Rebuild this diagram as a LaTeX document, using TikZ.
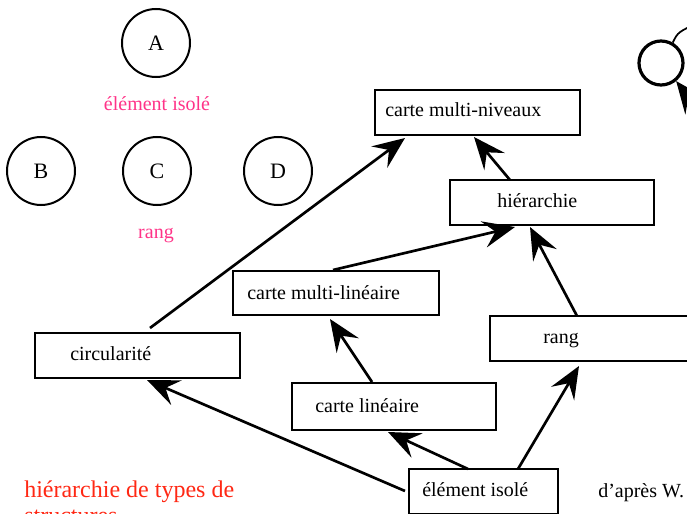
\documentclass[tikz,border=0pt]{standalone}
\usepackage{fontspec}
\setmainfont{Liberation Serif}
\usetikzlibrary{arrows.meta}
\definecolor{pinklbl}{RGB}{255,51,136}
\definecolor{redlbl}{RGB}{255,40,20}
\tikzset{
  box/.style={draw, line width=1.6pt, rectangle, inner sep=0pt},
  txt/.style={font=\fontsize{15pt}{17pt}\selectfont, inner sep=0pt, anchor=base west},
  elem/.style={draw, line width=1.5pt, circle, minimum size=51pt, inner sep=0pt, font=\fontsize{16.5pt}{18pt}\selectfont},
  conn/.style={line width=2pt, -{Stealth[length=24pt, width=20pt, inset=9pt]}},
  pinktxt/.style={font=\fontsize{15pt}{17pt}\selectfont, text=pinklbl, inner sep=0pt},
}
\begin{document}
\begin{tikzpicture}[x=0.75pt, y=-0.75pt]
\clip (0,0) rectangle (687,514);
\fill[white] (0,0) rectangle (687,514);

% circles
\node[elem] (A) at (156,43) {A};
\node[elem] (B) at (41,171) {B};
\node[elem] (C) at (157,171) {C};
\node[elem] (D) at (278,171) {D};
\node[pinktxt] (lisole) at (157,104) {élément isolé};
\node[pinktxt] (lrang) at (156,236) {rang};

% boxes
\node[box, minimum width=153.75pt, minimum height=33.75pt] (cmn) at (477.5,112.5) {};
\node[txt] (tcmn) at (385,116) {carte multi-niveaux};
\node[box, minimum width=153pt, minimum height=33.75pt] (hier) at (552,202.5) {};
\node[txt] (thier) at (497,207) {hiérarchie};
\node[box, minimum width=154.5pt, minimum height=33pt] (cml) at (336,293) {};
\node[txt] (tcml) at (247,299) {carte multi-linéaire};
\node[box, minimum width=153.75pt, minimum height=33.75pt] (rang) at (592.5,338.5) {};
\node[txt] (trang) at (543,343) {rang};
\node[box, minimum width=153.75pt, minimum height=33.75pt] (circ) at (137.5,355.5) {};
\node[txt] (tcirc) at (70,360) {circularité};
\node[box, minimum width=153pt, minimum height=35.25pt] (cl) at (394,406.5) {};
\node[txt] (tcl) at (315,412) {carte linéaire};
\node[box, minimum width=111.75pt, minimum height=33.75pt] (ei) at (483.5,491.5) {};
\node[txt] (tei) at (422,496) {élément isolé};

% connectors
\coordinate (circTop) at (150,328);
\coordinate (cmnA) at (405,138);
\coordinate (hierTop) at (510,180);
\coordinate (cmnB) at (474,137);
\coordinate (cmlTop) at (333,270);
\coordinate (hierA) at (515,227);
\coordinate (rangTop) at (577,316);
\coordinate (hierB) at (530,227);
\coordinate (clTop) at (372,382);
\coordinate (cmlB) at (330,319);
\coordinate (eiL) at (405,491);
\coordinate (circB) at (147,380);
\coordinate (eiA) at (468,469);
\coordinate (clB) at (388,432);
\coordinate (eiB) at (518,469);
\coordinate (rangB) at (579,366);

\draw[conn] (circTop) -- (cmnA);
\draw[conn] (hierTop) -- (cmnB);
\draw[conn] (cmlTop) -- (hierA);
\draw[conn] (rangTop) -- (hierB);
\draw[conn] (clTop) -- (cmlB);
\draw[conn] (eiL) -- (circB);
\draw[conn] (eiA) -- (clB);
\draw[conn] (eiB) -- (rangB);

% right-edge partial element
\node[draw, circle, line width=2.4pt, minimum size=33pt, inner sep=0pt] (R) at (661,63) {};
\coordinate (rOut) at (700,22);
\coordinate (rIn) at (705,118);
\draw[line width=1.3pt] (R.60) .. controls (678,32) .. (rOut);
\draw[conn] (rIn) -- (R.-50);

% labels
\node[anchor=base west, inner sep=0pt, text=redlbl, font=\fontsize{18pt}{18pt}\selectfont] (title) at (24,497) {hiérarchie de types de};
\node[anchor=base west, inner sep=0pt, text=redlbl, font=\fontsize{18pt}{18pt}\selectfont] (title2) at (24,523) {structures};
\node[anchor=base west, inner sep=0pt, font=\fontsize{15pt}{17pt}\selectfont] (apres) at (598,497) {d'après W.};
\end{tikzpicture}
\end{document}
